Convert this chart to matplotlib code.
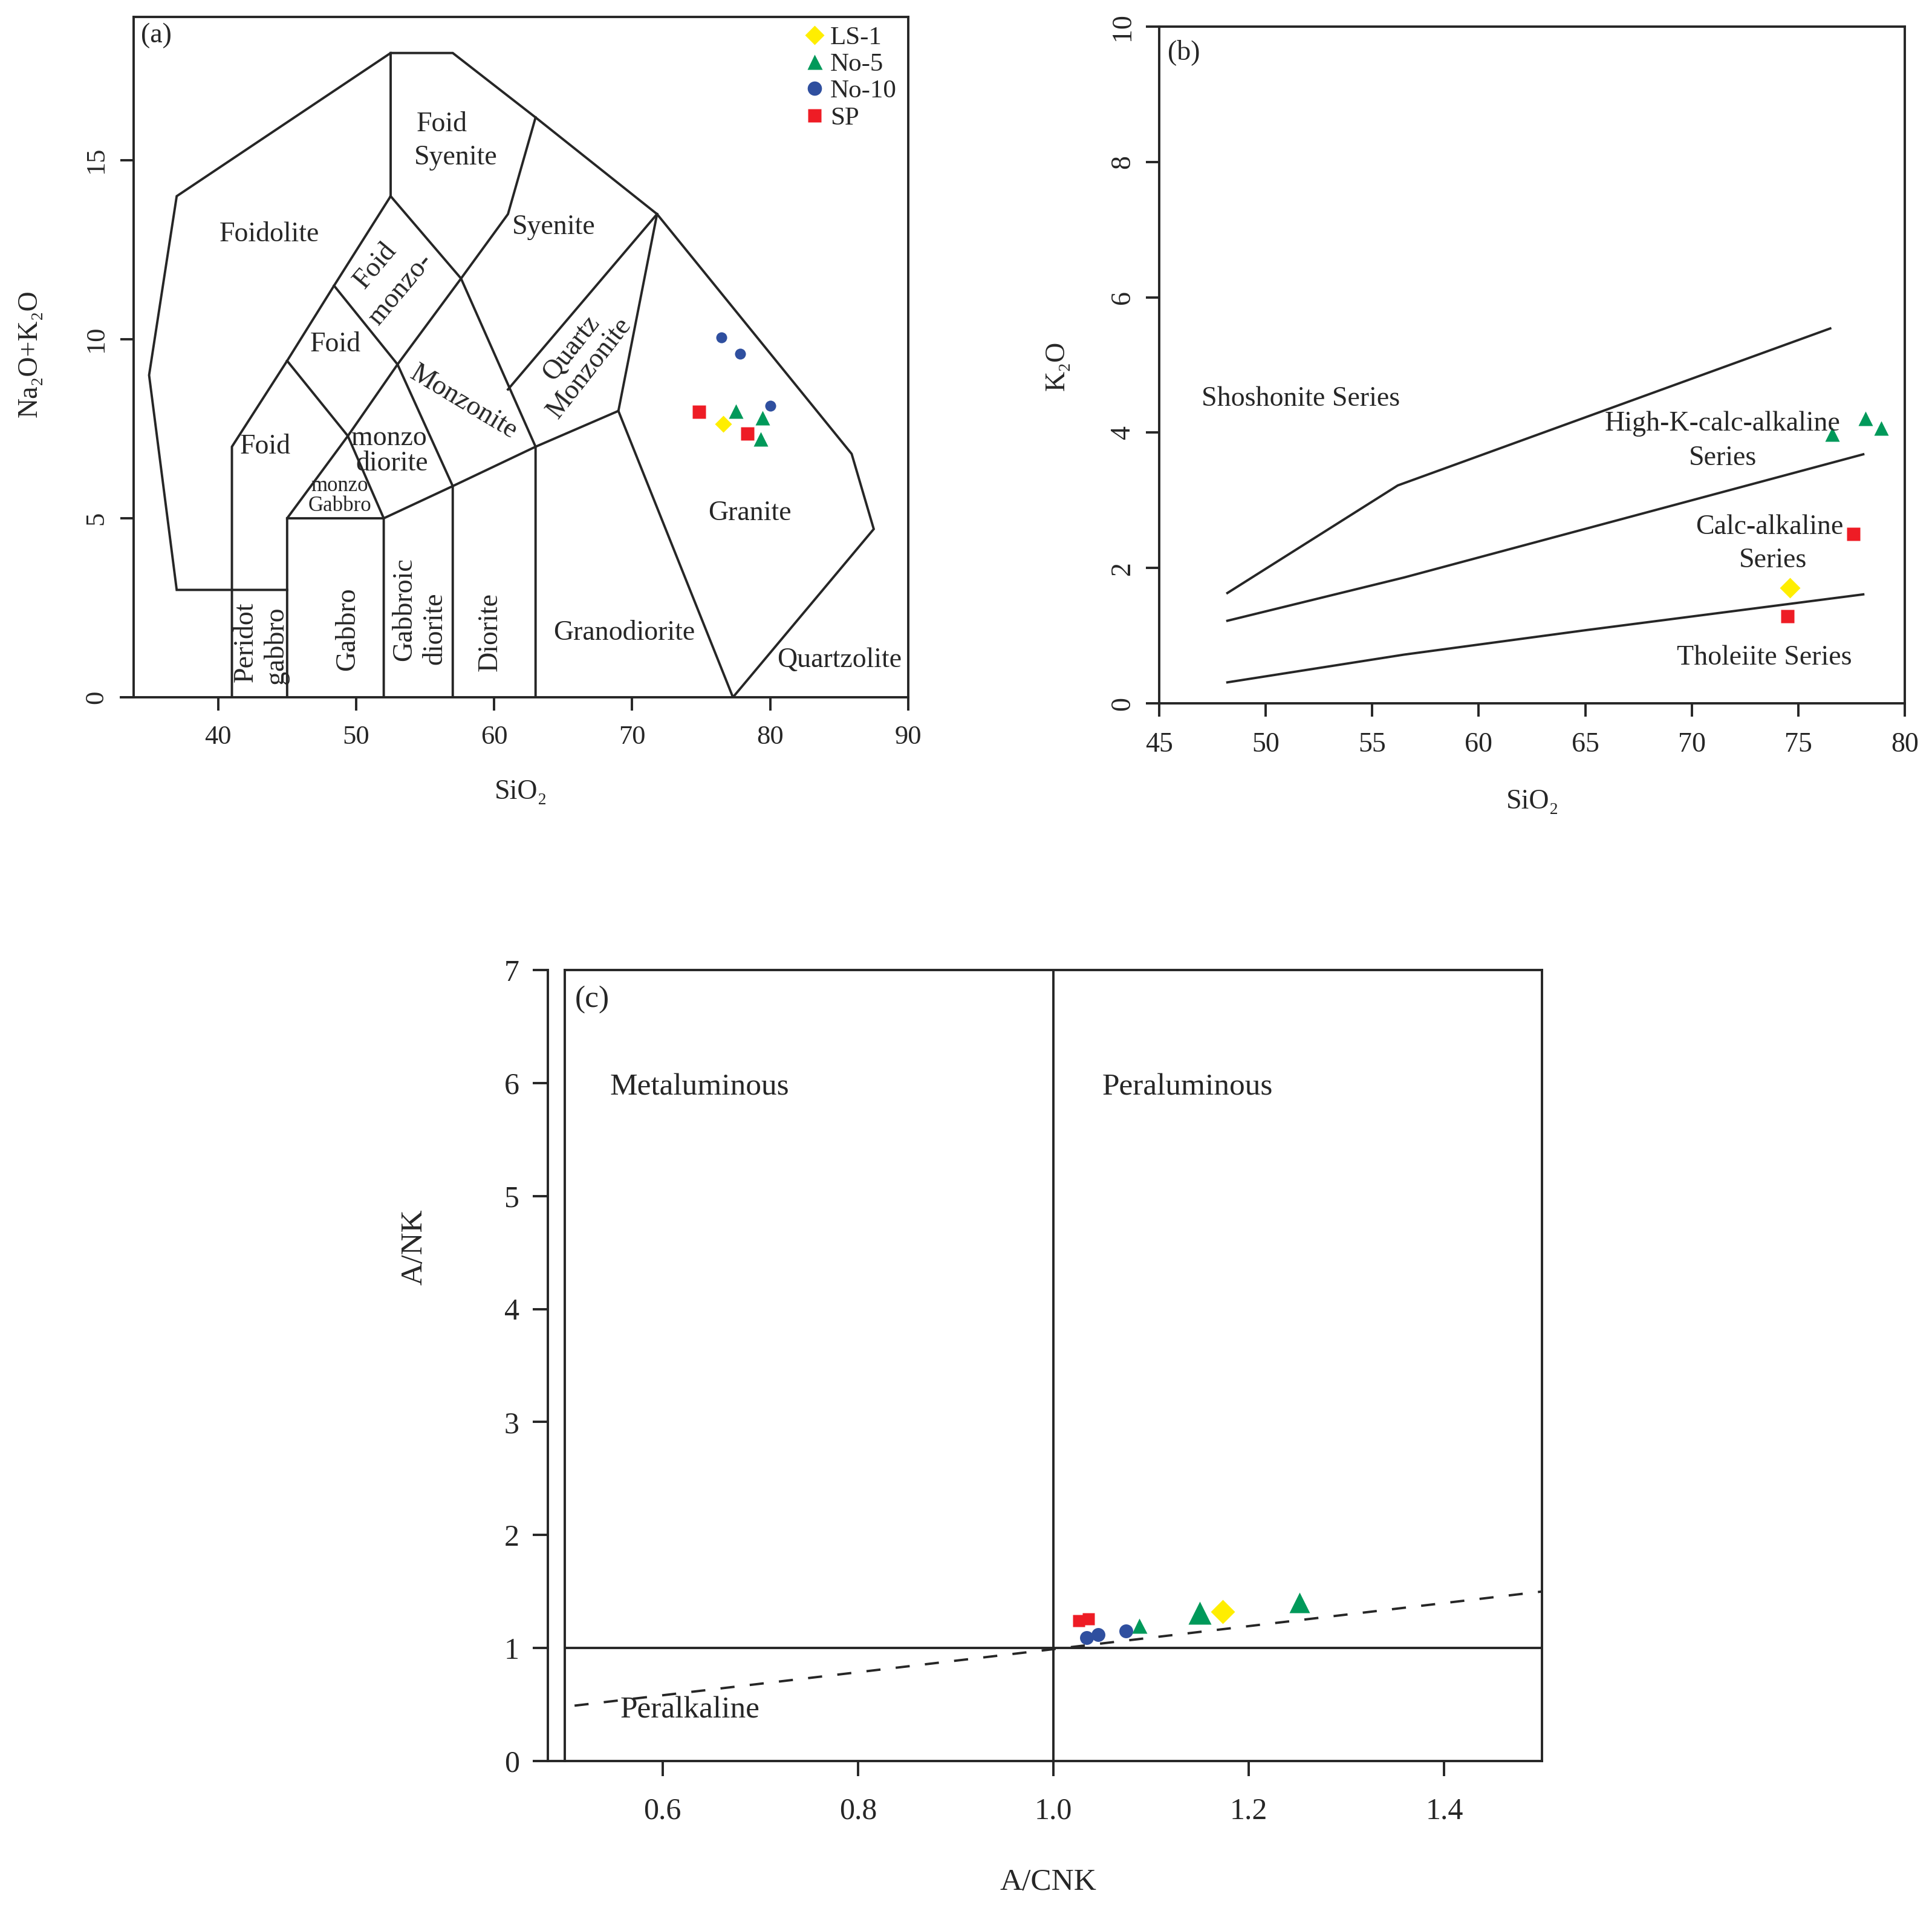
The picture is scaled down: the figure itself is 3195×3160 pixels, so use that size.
#Geochemical classification plots (a) TAS (b) K2O-SiO2 (c) A/NK-A/CNK
import numpy as np
import matplotlib.pyplot as plt
from matplotlib.lines import Line2D

plt.rcParams['font.family'] = ['Liberation Serif', 'DejaVu Serif']

#顏色
yellow = '#FFEE00'
green = '#00995A'
blue = '#2F4F9F'
red = '#EE1C25'
ink = '#262626'
lw = 2.8

#%% data (a) TAS
a_ls1_x = [76.6]
a_ls1_y = [7.64]
a_no5_x = [77.5, 79.45, 79.3]
a_no5_y = [8.0, 7.81, 7.22]
a_no10_x = [76.45, 77.8, 80.0]
a_no10_y = [10.06, 9.6, 8.15]
a_sp_x = [74.85, 78.35]
a_sp_y = [7.98, 7.36]

#TAS field boundaries (Middlemost)
tas_lines = [
    ([45, 37, 35, 37, 52.5, 57, 63, 71.8, 85.9, 87.5, 77.3],
     [3, 3, 9, 14, 18, 18, 16.2, 13.5, 6.8, 4.7, 0]),
    ([41, 41, 45, 48.4, 52.5, 52.5], [0, 7, 9.4, 11.5, 14, 18]),
    ([45, 45, 49.4, 53, 57.6, 61, 63], [0, 5, 7.3, 9.3, 11.7, 13.5, 16.2]),
    ([45, 52, 57, 63, 69, 71.8], [5, 5, 5.9, 7, 8, 13.5]),
    ([45, 49.4, 52, 52], [9.4, 7.3, 5, 0]),
    ([48.4, 53, 57, 57], [11.5, 9.3, 5.9, 0]),
    ([52.5, 57.6, 63, 63], [14, 11.7, 7, 0]),
    ([69, 77.3], [8, 0]),
    ([61, 71.8], [8.6, 13.5]),
]
tas_names = ['Foid', 'Syenite', 'Foidolite', 'Syenite', 'Foid', 'monzo-', 'Foid',
             'Monzonite', 'Quartz', 'Monzonite', 'Foid', 'monzo', 'diorite',
             'monzo', 'Gabbro', 'Granite', 'Granodiorite', 'Quartzolite', 'Diorite',
             'Peridot', 'gabbro', 'Gabbro', 'Gabbroic', 'diorite']
tas_name_x = [56.2, 57.2, 43.7, 64.3, 51.4, 53.2, 48.5, 57.8, 65.6, 66.9, 43.4, 52.4,
              52.6, 48.8, 48.8, 78.5, 69.4, 85.0, 59.7, 42.0, 44.2, 49.4, 53.5, 55.7]
tas_name_y = [16.0, 15.07, 12.93, 13.14, 12.05, 11.4, 9.86, 8.24, 9.75, 9.2, 7.0, 7.24,
              6.52, 5.9, 5.34, 5.14, 1.79, 1.03, 1.83, 1.55, 1.45, 1.9, 2.45, 1.93]
tas_name_rot = [0, 0, 0, 0, 50, 50, 0, -31, 52, 52, 0, 0, 0, 0, 0, 0, 0, 0, 90,
                90, 90, 90, 90, 90]

#%% data (b) K2O-SiO2
b_ls1_x = [74.6]
b_ls1_y = [1.71]
b_no5_x = [76.6, 78.15, 78.9]
b_no5_y = [3.98, 4.21, 4.07]
b_sp_x = [77.6, 74.5]
b_sp_y = [2.5, 1.29]

b_line1_x = [48.2, 56.2, 76.5]
b_line1_y = [1.63, 3.22, 5.54]
b_line2_x = [48.2, 56.5, 78.05]
b_line2_y = [1.22, 1.86, 3.68]
b_line3_x = [48.2, 56.5, 65.0, 78.05]
b_line3_y = [0.31, 0.72, 1.08, 1.61]

b_names = ['Shoshonite Series', 'High-K-calc-alkaline', 'Series', 'Calc-alkaline',
           'Series', 'Tholeiite Series']
b_name_x = [51.65, 71.45, 71.45, 73.65, 73.8, 73.4]
b_name_y = [4.5, 4.13, 3.62, 2.6, 2.11, 0.67]

#%% data (c) A/NK-A/CNK
c_ls1_x = [1.173]
c_ls1_y = [1.32]
c_no5_x = [1.088, 1.150, 1.252]
c_no5_y = [1.20, 1.31, 1.40]
c_no10_x = [1.034, 1.046, 1.074]
c_no10_y = [1.09, 1.12, 1.15]
c_sp_x = [1.026, 1.036]
c_sp_y = [1.24, 1.26]

c_vline_x = [1.0, 1.0]
c_vline_y = [0, 7]
c_hline_x = [0.5, 1.5]
c_hline_y = [1, 1]
c_dash_x = [0.51, 1.5]
c_dash_y = [0.49, 1.5]

c_names = ['Metaluminous', 'Peraluminous', 'Peralkaline']
c_name_x = [0.638, 1.137, 0.628]
c_name_y = [5.96, 5.96, 0.45]


def style_axes(ax, tsize, xpad, ypad, tlen=16):
    for s in ax.spines.values():
        s.set_linewidth(lw)
        s.set_color(ink)
    ax.tick_params(direction='out', length=tlen, width=lw, color=ink,
                   labelsize=tsize, labelcolor=ink, top=False, right=False)
    ax.tick_params(axis='x', pad=xpad)
    ax.tick_params(axis='y', pad=ypad)
    plt.setp(ax.get_yticklabels(), rotation=90, va='center')


fig = plt.figure(figsize=(31.95, 31.6), dpi=100)

#%% (a)
ax1 = fig.add_axes([0.06917, 0.63513, 0.40094, 0.35586])
for xs, ys in tas_lines:
    ax1.plot(xs, ys, color=ink, lw=lw, solid_joinstyle='miter')
for name, x, y, r in zip(tas_names, tas_name_x, tas_name_y, tas_name_rot):
    fs = 25 if (y < 6.2 and y > 5 and x < 50) else 33
    ax1.text(x, y, name, rotation=r, ha='center', va='center', fontsize=fs,
             color=ink, rotation_mode='anchor')
ax1.plot(a_sp_x, a_sp_y, 's', color=red, ms=15.5, mec='none')
ax1.plot(a_no10_x, a_no10_y, 'o', color=blue, ms=13, mec='none')
ax1.plot(a_no5_x, a_no5_y, '^', color=green, ms=17, mec='none')
ax1.plot(a_ls1_x, a_ls1_y, 'D', color=yellow, ms=14, mec='none')
ax1.text(35.5, 18.48, '(a)', ha='center', va='center', fontsize=33, color=ink)
ax1.set_xlim(33.88, 90)
ax1.set_ylim(0, 19)
ax1.set_xticks([40, 50, 60, 70, 80, 90])
ax1.set_yticks([0, 5, 10, 15])
style_axes(ax1, 32, 17, 14)
ax1.plot([-21 / 1281, 0], [0, 0], transform=ax1.transAxes, clip_on=False,
         color=ink, lw=lw)
ax1.set_xlabel('SiO\u2082', fontsize=33, color=ink, va='center')
ax1.xaxis.set_label_coords(0.5, -0.1396)
ax1.set_ylabel('Na\u2082O+K\u2082O', fontsize=33, color=ink, va='center')
ax1.yaxis.set_label_coords(-0.1343, 0.505)

handles = [
    Line2D([], [], ls='none', marker='D', color=yellow, ms=16, mec='none'),
    Line2D([], [], ls='none', marker='^', color=green, ms=18, mec='none'),
    Line2D([], [], ls='none', marker='o', color=blue, ms=17, mec='none'),
    Line2D([], [], ls='none', marker='s', color=red, ms=15.5, mec='none'),
]
leg = ax1.legend(handles, ['LS-1', 'No-5', 'No-10', 'SP'], loc='upper left',
                 bbox_to_anchor=(0.8657, 0.9875), frameon=False, fontsize=31,
                 handlelength=0.8, handletextpad=0.2, labelspacing=0.12,
                 borderpad=0, borderaxespad=0)
for t in leg.get_texts():
    t.set_color(ink)

#%% (b)
ax2 = fig.add_axes([0.6, 0.63196, 0.38592, 0.35411])
for xs, ys in [(b_line1_x, b_line1_y), (b_line2_x, b_line2_y), (b_line3_x, b_line3_y)]:
    ax2.plot(xs, ys, color=ink, lw=lw)
for name, x, y in zip(b_names, b_name_x, b_name_y):
    ax2.text(x, y, name, ha='center', va='center', fontsize=33, color=ink)
ax2.plot(b_sp_x, b_sp_y, 's', color=red, ms=15.5, mec='none')
ax2.plot(b_no5_x, b_no5_y, '^', color=green, ms=17, mec='none')
ax2.plot(b_ls1_x, b_ls1_y, 'D', color=yellow, ms=17.5, mec='none')
ax2.text(46.16, 9.62, '(b)', ha='center', va='center', fontsize=33, color=ink)
ax2.set_xlim(45, 80)
ax2.set_ylim(0, 10)
ax2.set_xticks(np.arange(45, 81, 5))
ax2.set_yticks(np.arange(0, 11, 2))
style_axes(ax2, 33, 18, 12)
ax2.set_xlabel('SiO\u2082', fontsize=33, color=ink, va='center')
ax2.xaxis.set_label_coords(0.501, -0.1457)
ax2.set_ylabel('K\u2082O', fontsize=33, color=ink, va='center')
ax2.yaxis.set_label_coords(-0.137, 0.4987)

#%% (c)
ax3 = fig.add_axes([0.29233, 0.07848, 0.50579, 0.41392])
ax3.plot(c_vline_x, c_vline_y, color=ink, lw=lw)
ax3.plot(c_hline_x, c_hline_y, color=ink, lw=lw)
ax3.plot(c_dash_x, c_dash_y, color=ink, lw=lw, dashes=(6, 6.5))
for name, x, y in zip(c_names, c_name_x, c_name_y):
    ax3.text(x, y, name, ha='center', va='center', fontsize=37, color=ink)
ax3.plot(c_sp_x, c_sp_y, 's', color=red, ms=14, mec='none')
ax3.plot(c_no10_x, c_no10_y, 'o', color=blue, ms=16.5, mec='none')
tri_ms = [18, 27, 24]
for x, y, m in zip(c_no5_x, c_no5_y, tri_ms):
    ax3.plot(x, y, '^', color=green, ms=m, mec='none')
ax3.plot(c_ls1_x, c_ls1_y, 'D', color=yellow, ms=20, mec='none')
ax3.text(0.528, 6.74, '(c)', ha='center', va='center', fontsize=37, color=ink)
ax3.set_xlim(0.5, 1.5)
ax3.set_ylim(0, 7)
ax3.set_xticks([0.6, 0.8, 1.0, 1.2, 1.4])
ax3.set_xticklabels(['0.6', '0.8', '1.0', '1.2', '1.4'])
ax3.set_yticks(range(0, 8))
style_axes(ax3, 36, 25, 16, tlen=18)
ax3.spines['left'].set_position(('outward', 20))
ax3.axvline(0.5, color=ink, lw=lw, clip_on=False)
ax3.plot([-28 / 1616, 0], [0, 0], transform=ax3.transAxes, clip_on=False,
         color=ink, lw=lw)
ax3.set_xlabel('A/CNK', fontsize=37, color=ink, va='center')
ax3.xaxis.set_label_coords(0.495, -0.1537)
ax3.set_ylabel('A/NK', fontsize=37, color=ink, va='center')
ax3.yaxis.set_label_coords(-0.154, 0.65)

fig.savefig('out.png', dpi=100)
